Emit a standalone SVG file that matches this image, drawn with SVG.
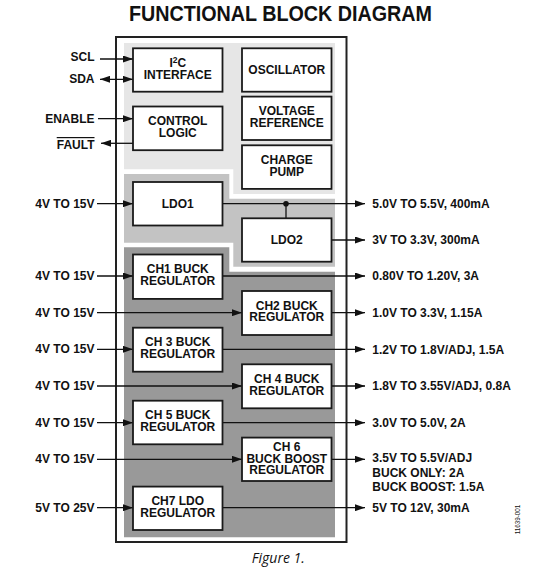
<svg xmlns="http://www.w3.org/2000/svg" width="555" height="577" viewBox="0 0 555 577">
<defs>
<style>
.t{font-family:"Liberation Sans",Arial,sans-serif;font-weight:bold;font-size:12px;fill:#111}
.c{text-anchor:middle}
.r{text-anchor:end}
.box{fill:#fff;stroke:#1a1a1a;stroke-width:1.8}
.ln{stroke:#111;stroke-width:1.3;fill:none}
.a{marker-end:url(#ah)}
</style>
<marker id="ah" viewBox="0 0 10 7" refX="10" refY="3.5" markerWidth="10" markerHeight="7" markerUnits="userSpaceOnUse" orient="auto-start-reverse">
<path d="M0,0 L10,3.5 L0,7 Z" fill="#111"/>
</marker>
</defs>
<rect width="555" height="577" fill="#fff"/>
<text x="280.5" y="21.4" text-anchor="middle" textLength="303" lengthAdjust="spacingAndGlyphs" style="font-family:'Liberation Sans',Arial,sans-serif;font-weight:bold;font-size:22px;fill:#111">FUNCTIONAL BLOCK DIAGRAM</text>

<g id="frame">
<rect x="116" y="37" width="230.5" height="505" fill="#fff" stroke="#222" stroke-width="2"/>
<polygon points="124,43 335,43 335,194 233.3,194 233.3,169.3 124,169.3" fill="#e6e6e6"/>
<polygon points="124,174 229.3,174 229.3,198.7 335,198.7 335,266.7 233.3,266.7 233.3,242.7 124,242.7" fill="#c3c3c3"/>
<polygon points="124,247.3 229.3,247.3 229.3,271.7 335,271.7 335,537.3 124,537.3" fill="#999999"/>
</g>

<g id="connectors">
<line class="ln a" x1="100" y1="59" x2="133" y2="59"/>
<line class="ln a" x1="100" y1="79.3" x2="133" y2="79.3" marker-start="url(#ah)"/>
<line class="ln a" x1="98" y1="118.7" x2="133" y2="118.7"/>
<line class="ln a" x1="133" y1="143.3" x2="101" y2="143.3"/>
<line class="ln a" x1="97" y1="203.7" x2="133" y2="203.7"/>
<line class="ln a" x1="97" y1="276" x2="133" y2="276"/>
<line class="ln a" x1="97" y1="312.7" x2="242" y2="312.7"/>
<line class="ln a" x1="97" y1="349.3" x2="133" y2="349.3"/>
<line class="ln a" x1="97" y1="386" x2="242" y2="386"/>
<line class="ln a" x1="97" y1="422.7" x2="133" y2="422.7"/>
<line class="ln a" x1="97" y1="459.3" x2="242" y2="459.3"/>
<line class="ln a" x1="97" y1="507.7" x2="133" y2="507.7"/>

<line class="ln a" x1="222.5" y1="203.7" x2="365" y2="203.7"/>
<line class="ln" x1="286" y1="203.7" x2="286" y2="218.3"/>
<circle cx="286" cy="203.7" r="2.8" fill="#111"/>
<line class="ln a" x1="331.5" y1="240" x2="365" y2="240"/>
<line class="ln a" x1="222.5" y1="276" x2="365" y2="276"/>
<line class="ln a" x1="331.5" y1="312.7" x2="365" y2="312.7"/>
<line class="ln a" x1="222.5" y1="349.3" x2="365" y2="349.3"/>
<line class="ln a" x1="331.5" y1="386" x2="365" y2="386"/>
<line class="ln a" x1="222.5" y1="422.7" x2="365" y2="422.7"/>
<line class="ln a" x1="331.5" y1="459.3" x2="365" y2="459.3"/>
<line class="ln a" x1="222.5" y1="507.7" x2="365" y2="507.7"/>
</g>

<g id="i2c"><rect class="box" x="133" y="48.3" width="89.5" height="43.4"/>
<text class="t c" x="177.75" y="66.6">I<tspan font-size="8.5" dy="-4">2</tspan><tspan dy="4">C</tspan></text>
<text class="t c" x="177.75" y="78.5">INTERFACE</text></g>
<g id="oscillator"><rect class="box" x="242" y="48.3" width="89.5" height="43.4"/>
<text class="t c" x="286.75" y="74">OSCILLATOR</text></g>
<g id="control"><rect class="box" x="133" y="106.5" width="89.5" height="43.7"/>
<text class="t c" x="177.75" y="125">CONTROL</text>
<text class="t c" x="177.75" y="136.8">LOGIC</text></g>
<g id="vref"><rect class="box" x="242" y="96.6" width="89.5" height="43.4"/>
<text class="t c" x="286.75" y="115">VOLTAGE</text>
<text class="t c" x="286.75" y="126.8">REFERENCE</text></g>
<g id="chargepump"><rect class="box" x="242" y="145.3" width="89.5" height="43.6"/>
<text class="t c" x="286.75" y="164.2">CHARGE</text>
<text class="t c" x="286.75" y="176.3">PUMP</text></g>
<g id="ldo1"><rect class="box" x="133" y="182" width="89.5" height="43.5"/>
<text class="t c" x="177.75" y="207.6">LDO1</text></g>
<g id="ldo2"><rect class="box" x="242" y="218.3" width="89.5" height="43.4"/>
<text class="t c" x="286.75" y="244">LDO2</text></g>
<g id="ch1"><rect class="box" x="133" y="254.5" width="89.5" height="44.4"/>
<text class="t c" x="177.75" y="273.3">CH1 BUCK</text>
<text class="t c" x="177.75" y="285.1">REGULATOR</text></g>
<g id="ch2"><rect class="box" x="242" y="291" width="89.5" height="44"/>
<text class="t c" x="286.75" y="309.6">CH2 BUCK</text>
<text class="t c" x="286.75" y="321.4">REGULATOR</text></g>
<g id="ch3"><rect class="box" x="133" y="327.7" width="89.5" height="44"/>
<text class="t c" x="177.75" y="346.3">CH 3 BUCK</text>
<text class="t c" x="177.75" y="358.1">REGULATOR</text></g>
<g id="ch4"><rect class="box" x="242" y="364.3" width="89.5" height="44"/>
<text class="t c" x="286.75" y="382.9">CH 4 BUCK</text>
<text class="t c" x="286.75" y="394.7">REGULATOR</text></g>
<g id="ch5"><rect class="box" x="133" y="400.7" width="89.5" height="43.6"/>
<text class="t c" x="177.75" y="419.1">CH 5 BUCK</text>
<text class="t c" x="177.75" y="430.9">REGULATOR</text></g>
<g id="ch6"><rect class="box" x="242" y="437.6" width="89.5" height="43.4"/>
<text class="t c" x="286.75" y="450.7">CH 6</text>
<text class="t c" x="286.75" y="462.6">BUCK BOOST</text>
<text class="t c" x="286.75" y="474.2">REGULATOR</text></g>
<g id="ch7"><rect class="box" x="133" y="486.6" width="89.5" height="43.4"/>
<text class="t c" x="177.75" y="505">CH7 LDO</text>
<text class="t c" x="177.75" y="516.8">REGULATOR</text></g>

<g id="inputs">
<text class="t r" x="94.5" y="61">SCL</text>
<text class="t r" x="94.5" y="83.4">SDA</text>
<text class="t r" x="94.5" y="122.6">ENABLE</text>
<text class="t r" x="94.5" y="149" style="text-decoration:overline">FAULT</text>
<text class="t r" x="94.5" y="207.8">4V TO 15V</text>
<text class="t r" x="94.5" y="280.1">4V TO 15V</text>
<text class="t r" x="94.5" y="316.8">4V TO 15V</text>
<text class="t r" x="94.5" y="353.4">4V TO 15V</text>
<text class="t r" x="94.5" y="390.1">4V TO 15V</text>
<text class="t r" x="94.5" y="426.8">4V TO 15V</text>
<text class="t r" x="94.5" y="463.4">4V TO 15V</text>
<text class="t r" x="94.5" y="511.8">5V TO 25V</text>
</g>

<g id="outputs">
<text class="t" x="372.3" y="208">5.0V TO 5.5V, 400mA</text>
<text class="t" x="372.3" y="244.2">3V TO 3.3V, 300mA</text>
<text class="t" x="372.3" y="280.2">0.80V TO 1.20V, 3A</text>
<text class="t" x="372.3" y="316.9">1.0V TO 3.3V, 1.15A</text>
<text class="t" x="372.3" y="353.5">1.2V TO 1.8V/ADJ, 1.5A</text>
<text class="t" x="372.3" y="390.2">1.8V TO 3.55V/ADJ, 0.8A</text>
<text class="t" x="372.3" y="426.9">3.0V TO 5.0V, 2A</text>
<text class="t" x="372.3" y="461.7">3.5V TO 5.5V/ADJ</text>
<text class="t" x="372.3" y="476.5">BUCK ONLY: 2A</text>
<text class="t" x="372.3" y="490.7">BUCK BOOST: 1.5A</text>
<text class="t" x="372.3" y="512.3">5V TO 12V, 30mA</text>
</g>

<text transform="translate(519.5,534.3) rotate(-90)" style="font-family:'Liberation Sans',Arial,sans-serif;font-size:6.3px;fill:#111">11639-001</text>
<text x="278.3" y="563.3" text-anchor="middle" style="font-family:'Open Sans','Liberation Sans',sans-serif;font-style:italic;font-size:14px;fill:#111">Figure 1.</text>
</svg>
